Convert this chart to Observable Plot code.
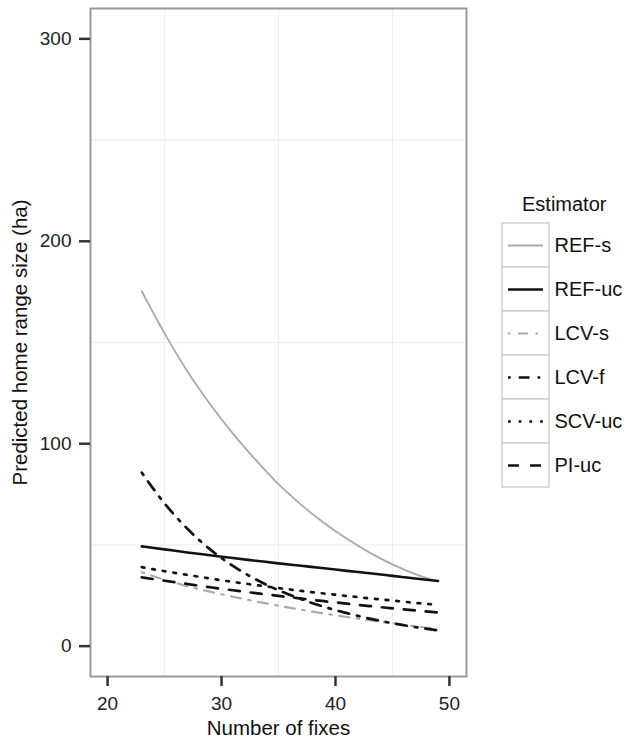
<!DOCTYPE html>
<html>
<head>
<meta charset="utf-8">
<script src="https://cdn.jsdelivr.net/npm/d3@7"></script>
<script src="https://cdn.jsdelivr.net/npm/@observablehq/plot@0.6"></script>
<style>
  html, body { margin: 0; padding: 0; background: #fff; }
  #wrap { position: relative; width: 629px; height: 742px; font-family: "Liberation Sans", Arial, Helvetica, sans-serif; }
  #legend { position: absolute; left: 502px; top: 180px; }
  svg { overflow: visible; }
</style>
</head>
<body>
<div id="wrap"><div id="chart"></div><div id="legend"></div></div>
<script>
// ---- data ----
const fixes = [23, 25, 27, 29, 31, 33, 35, 37, 39, 41, 43, 45, 47, 49];
const refS  = [175.3, 154.5, 135.8, 119.5, 105.0, 92.0, 80.0, 69.8, 60.8, 53.0, 46.2, 40.4, 35.6, 32.0];
const refUc = [49.3, 47.8, 46.3, 44.9, 43.5, 42.2, 40.9, 39.7, 38.5, 37.2, 36.0, 34.7, 33.4, 32.2];
const lcvS  = [36.5, 32.8, 29.6, 26.9, 24.4, 22.1, 20.0, 18.0, 16.1, 14.4, 12.8, 11.3, 9.8, 8.4];
const lcvF  = [85.7, 70.5, 58.0, 47.8, 39.6, 33.0, 27.6, 23.2, 19.4, 16.3, 13.6, 11.3, 9.4, 7.8];
const scvUc = [39.0, 37.0, 35.2, 33.4, 31.7, 30.2, 28.7, 27.3, 26.0, 24.8, 23.6, 22.5, 21.4, 20.4];
const piUc  = [34.0, 32.3, 30.7, 29.1, 27.6, 26.2, 24.8, 23.5, 22.2, 21.0, 19.8, 18.7, 17.6, 16.6];

const estimators = ["REF-s", "REF-uc", "LCV-s", "LCV-f", "SCV-uc", "PI-uc"];
const seriesValues = [refS, refUc, lcvS, lcvF, scvUc, piUc];
const xTicks = [20, 30, 40, 50];
const yTicks = [0, 100, 200, 300];
const xMinor = [25, 35, 45];
const yMinor = [50, 150, 250];
const xLabel = "Number of fixes";
const yLabel = "Predicted home range size (ha)";
const legendTitle = "Estimator";

// styles per estimator
const styles = {
  "REF-s":  {stroke: "#aaaaaa", strokeWidth: 1.8, strokeDasharray: null},
  "REF-uc": {stroke: "#111111", strokeWidth: 2.6, strokeDasharray: null},
  "LCV-s":  {stroke: "#aaaaaa", strokeWidth: 2.2, strokeDasharray: "2.5,7.5,10,7.5"},
  "LCV-f":  {stroke: "#111111", strokeWidth: 2.7, strokeDasharray: "2.7,8,10.8,8"},
  "SCV-uc": {stroke: "#111111", strokeWidth: 2.7, strokeDasharray: "2.7,8"},
  "PI-uc":  {stroke: "#111111", strokeWidth: 2.7, strokeDasharray: "11,11"}
};

const rows = estimators.flatMap((e, i) => fixes.map((x, j) => ({est: e, x, y: seriesValues[i][j]})));

const lineMarks = estimators.map(e => {
  const s = styles[e];
  const o = {x: "x", y: "y", stroke: s.stroke, strokeWidth: s.strokeWidth, curve: "monotone-x"};
  if (s.strokeDasharray) o.strokeDasharray = s.strokeDasharray;
  return Plot.line(rows.filter(d => d.est === e), o);
});

const chart = Plot.plot({
  width: 629,
  height: 742,
  marginLeft: 90,
  marginRight: 163,
  marginTop: 8,
  marginBottom: 66,
  style: {fontFamily: '"Liberation Sans", Arial, Helvetica, sans-serif', background: "white"},
  x: {domain: [18.5, 51.5]},
  y: {domain: [-15, 315]},
  marks: [
    Plot.gridX(xMinor, {stroke: "#efefef", strokeOpacity: 1, strokeWidth: 1.2}),
    Plot.gridY(yMinor, {stroke: "#efefef", strokeOpacity: 1, strokeWidth: 1.2}),
    ...lineMarks,
    Plot.frame({stroke: "#9a9a9a", strokeWidth: 2}),
    Plot.axisX({ticks: xTicks, tickSize: 10, tickPadding: 10, fontSize: 19, strokeWidth: 2.5, stroke: "#333", fill: "#222", label: null}),
    Plot.axisY({ticks: yTicks, tickSize: 11, tickPadding: 8, fontSize: 19, strokeWidth: 2.5, stroke: "#333", fill: "#222", label: null}),
    Plot.text([xLabel], {frameAnchor: "bottom", lineAnchor: "middle", textAnchor: "middle", dy: 51.5, fontSize: 20.5, fill: "#111"}),
    Plot.text([yLabel], {frameAnchor: "left", lineAnchor: "middle", textAnchor: "middle", rotate: -90, dx: -70.5, fontSize: 20.5, fill: "#111"})
  ]
});
document.getElementById("chart").appendChild(chart);

// ---- legend ----
const legendMarks = [
  Plot.cell(estimators, {y: d => d, fill: "white", stroke: "#cfcfcf", strokeWidth: 1.5}),
  ...estimators.map(e => {
    const s = styles[e];
    const o = {y: d => d, stroke: s.stroke, strokeWidth: s.strokeWidth, insetLeft: 6, insetRight: 6};
    if (s.strokeDasharray) o.strokeDasharray = s.strokeDasharray;
    return Plot.ruleY([e], o);
  }),
  Plot.text(estimators, {y: d => d, text: d => d, frameAnchor: "right", lineAnchor: "middle", textAnchor: "start", dx: 5, fontSize: 20, fill: "#111"}),
  Plot.text([legendTitle], {frameAnchor: "top-left", lineAnchor: "middle", textAnchor: "start", dx: 19.5, dy: -17, fontSize: 20, fill: "#111"})
];
const legend = Plot.plot({
  width: 127,
  height: 310,
  marginLeft: 0,
  marginRight: 80,
  marginTop: 41,
  marginBottom: 1,
  style: {fontFamily: '"Liberation Sans", Arial, Helvetica, sans-serif', background: "transparent"},
  y: {domain: estimators, type: "band", padding: 0, axis: null},
  marks: legendMarks
});
document.getElementById("legend").appendChild(legend);
</script>
</body>
</html>
